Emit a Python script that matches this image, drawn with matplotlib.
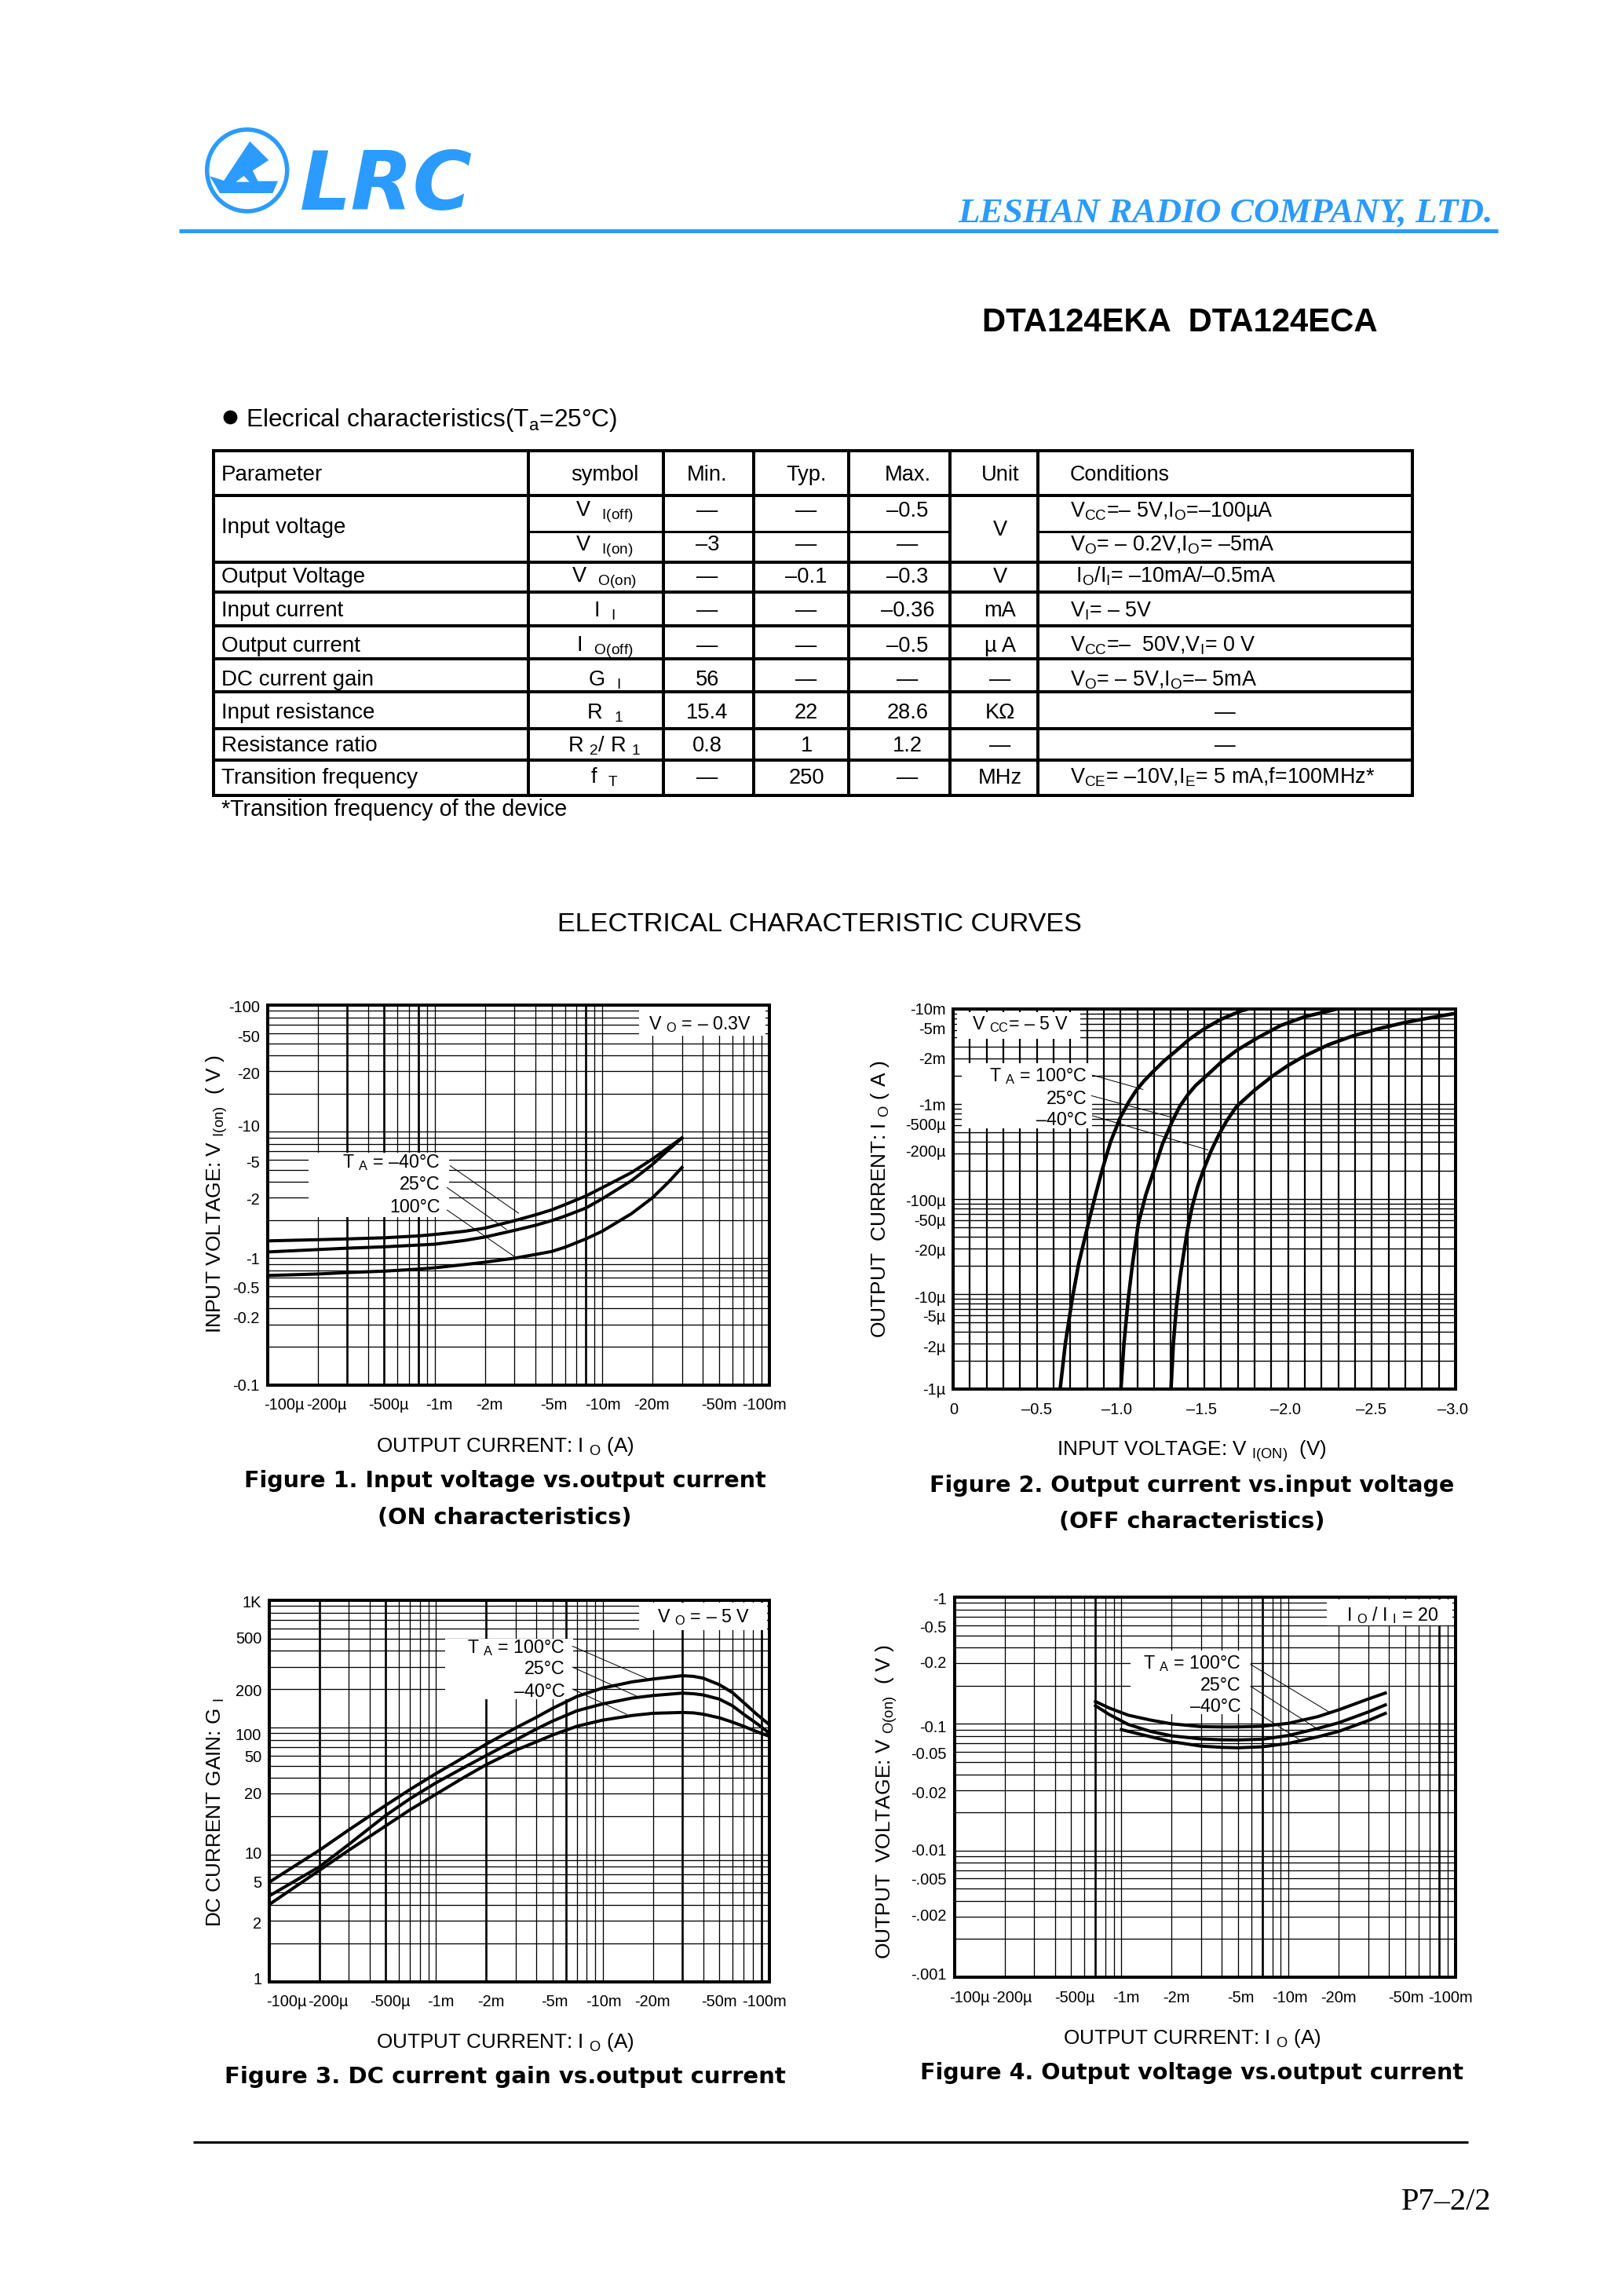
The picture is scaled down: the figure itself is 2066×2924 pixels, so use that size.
import numpy as np
import matplotlib
matplotlib.use('Agg')
import matplotlib.pyplot as plt
from matplotlib.patches import Rectangle, Ellipse, Polygon

plt.rcParams['font.family'] = ['Liberation Sans', 'DejaVu Sans']
plt.rcParams['mathtext.fontset'] = 'custom'
plt.rcParams['mathtext.rm'] = 'Liberation Sans'
plt.rcParams['mathtext.default'] = 'rm'

W, H = 2066, 2924
PX = 0.36  # one pixel in points at 200 dpi
BLUE = '#2b9bff'

# ---- data ----
# figure 1: current in mA, voltage magnitude in V
fig1_i = [0.1, 0.2, 0.3, 0.5, 0.8, 1, 1.5, 2, 3, 4, 5, 6, 8, 10, 15, 20, 25, 30]
fig1_m40 = [1.37, 1.40, 1.42, 1.45, 1.50, 1.54, 1.63, 1.73, 1.98, 2.20, 2.41, 2.65, 3.10, 3.60, 4.75, 6.07, 7.5, 8.9]
fig1_25 = [1.12, 1.17, 1.20, 1.23, 1.27, 1.29, 1.38, 1.47, 1.66, 1.82, 1.98, 2.15, 2.49, 2.94, 4.1, 5.5, 7.2, 8.9]
fig1_100 = [.73, .75, .77, .79, .82, .84, .89, .93, 1.0, 1.07, 1.13, 1.22, 1.42, 1.63, 2.25, 3.0, 4.0, 5.2]

# figure 2: input voltage magnitude in V, current in uA
fig2_v100 = [.639, .67, .71, .75, .806, .85, .89, .94, .998, 1.05, 1.093, 1.14, 1.189, 1.26, 1.333, 1.41, 1.5, 1.6, 1.715, 1.76]
fig2_i100 = [1, 3, 8.6, 21, 54, 110, 202, 400, 720, 1060, 1390, 1750, 2150, 2850, 3650, 4800, 6200, 7800, 9500, 10000]
fig2_v25 = [1.002, 1.02, 1.045, 1.07, 1.105, 1.15, 1.2, 1.25, 1.309, 1.354, 1.404, 1.45, 1.5, 1.6, 1.691, 1.82, 1.955, 2.1, 2.24, 2.29]
fig2_i25 = [1, 3, 8.6, 20, 54, 110, 202, 380, 660, 950, 1270, 1580, 1890, 2750, 3650, 5000, 6700, 8300, 9500, 10000]
fig2_vm40 = [1.301, 1.315, 1.333, 1.355, 1.38, 1.40, 1.428, 1.46, 1.495, 1.54, 1.584, 1.63, 1.691, 1.8, 1.907, 2.0, 2.098, 2.24, 2.385, 2.54, 2.696, 2.85, 3.0]
fig2_im40 = [1, 3, 7.2, 15, 29, 48, 84, 135, 202, 320, 465, 650, 936, 1400, 1970, 2550, 3200, 4200, 5200, 6200, 7200, 8100, 9000]

# figure 3: current in mA, gain
fig3_i = [.1, .2, .3, .5, .7, 1, 1.5, 2, 3, 4, 5, 7, 10, 15, 20, 30, 35, 40, 50, 60, 70, 85, 100]
fig3_100 = [6.05, 10.8, 15.6, 24.4, 32.5, 43.3, 59, 73.8, 98.8, 120, 141, 175, 204, 228, 240, 255, 252, 244, 217, 188, 157, 125, 105]
fig3_25 = [4.72, 8.0, 12.0, 20.3, 27.5, 36.6, 49, 60, 79.4, 97, 112, 135, 153, 170, 178, 186, 184, 180, 167, 148, 127, 106, 90]
fig3_m40 = [4.04, 7.5, 10.8, 16.8, 22.5, 29.8, 41, 50.8, 66, 77, 87, 102, 114, 124, 129, 131, 130, 127, 119, 110, 102, 92, 85]

# figure 4: current in mA, voltage magnitude in V
fig4_i = [.7, .85, 1.1, 1.5, 2, 3, 4, 5, 7, 10, 15, 20, 30, 38]
fig4_100 = [.150, .133, .117, .107, .100, .095, .0945, .0946, .0957, .101, .114, .129, .157, .175]
fig4_25 = [.139, .118, .0989, .087, .0804, .0760, .0748, .0746, .0756, .0809, .092, .102, .124, .141]
fig4_im40 = [1, 1.5, 2, 3, 4, 5, 7, 10, 15, 20, 30, 38]
fig4_m40 = [.090, .079, .0723, .0667, .0652, .0647, .0659, .0701, .079, .0872, .106, .121]

current_labels = ['-100µ', '-200µ', '-500µ', '-1m', '-2m', '-5m', '-10m', '-20m', '-50m', '-100m']
fig1_ylabels = ['-100', '-50', '-20', '-10', '-5', '-2', '-1', '-0.5', '-0.2', '-0.1']
fig2_xlabels = ['0', '–0.5', '–1.0', '–1.5', '–2.0', '–2.5', '–3.0']
fig2_ylabels = ['-10m', '-5m', '-2m', '-1m', '-500µ', '-200µ', '-100µ', '-50µ', '-20µ', '-10µ', '-5µ', '-2µ', '-1µ']
fig3_ylabels = ['1K', '500', '200', '100', '50', '20', '10', '5', '2', '1']
fig4_ylabels = ['-1', '-0.5', '-0.2', '-0.1', '-0.05', '-0.02', '-0.01', '-.005', '-.002', '-.001']

table_rows = [
    ['Parameter', 'symbol', 'Min.', 'Typ.', 'Max.', 'Unit', 'Conditions'],
    ['', 'V  $_{I(off)}$', '—', '—', '–0.5', '', 'V$_{CC}$=– 5V,I$_{O}$=–100µA'],
    ['', 'V  $_{I(on)}$', '–3', '—', '—', '', 'V$_{O}$= – 0.2V,I$_{O}$= –5mA'],
    ['Output Voltage', 'V  $_{O(on)}$', '—', '–0.1', '–0.3', 'V', ' I$_{O}$/I$_{I}$= –10mA/–0.5mA'],
    ['Input current', 'I  $_{I}$', '—', '—', '–0.36', 'mA', 'V$_{I}$= – 5V'],
    ['Output current', 'I  $_{O(off)}$', '—', '—', '–0.5', 'µ A', 'V$_{CC}$=–  50V,V$_{I}$= 0 V'],
    ['DC current gain', 'G  $_{I}$', '56', '—', '—', '—', 'V$_{O}$= – 5V,I$_{O}$=– 5mA'],
    ['Input resistance', 'R  $_{1}$', '15.4', '22', '28.6', 'KΩ', '—'],
    ['Resistance ratio', 'R $_{2}$/ R $_{1}$', '0.8', '1', '1.2', '—', '—'],
    ['Transition frequency', 'f  $_{T}$', '—', '250', '—', 'MHz', 'V$_{CE}$= –10V,I$_{E}$= 5 mA,f=100MHz*'],
]

fig = plt.figure(figsize=(W / 200, H / 200), dpi=200, facecolor='white')

# page layer in pixel coordinates, on top of the charts
page = fig.add_axes([0, 0, 1, 1], zorder=10)
page.set_xlim(0, W)
page.set_ylim(H, 0)
page.axis('off')
page.patch.set_alpha(0)


def ptext(x, y, s, size=10, ha='center', va='center', **kw):
    page.text(x, y, s, fontsize=size, ha=ha, va=va, color=kw.pop('color', 'black'), **kw)


def pline(x0, y0, x1, y1, lw=3, color='black'):
    page.plot([x0, x1], [y0, y1], color=color, lw=lw * PX, solid_capstyle='butt')


# header
logo_x = lambda x: 230 + x / 1.96
logo_y = lambda y: 130 + y / 3
page.add_patch(Ellipse((logo_x(166), logo_y(261)), 102, 104, fill=False, ec=BLUE, lw=5.5 * PX))
logo_shape = [(173, 150), (220, 222), (180, 262), (193, 302), (243, 302), (230, 348), (98, 348), (73, 283), (108, 300)]
page.add_patch(Polygon([(logo_x(a), logo_y(b)) for a, b in logo_shape], fc=BLUE, ec='none'))
logo_hole = [(138, 305), (158, 282), (172, 305)]
page.add_patch(Polygon([(logo_x(a), logo_y(b)) for a, b in logo_hole], fc='white', ec='none'))
ptext(382, 267, 'LRC', 37, ha='left', va='baseline', color=BLUE, family='DejaVu Sans', fontweight='bold',
      fontstyle='oblique')
pline(228, 294, 1908, 294, 5, BLUE)
ptext(1902, 272, 'LESHAN RADIO COMPANY, LTD.', 16.3, ha='right', color=BLUE, family='Liberation Serif',
      fontstyle='italic', fontweight='bold')
ptext(1503, 411, 'DTA124EKA  DTA124ECA', 15.1, fontweight='bold')

# table
page.plot([293], [531], 'o', color='black', ms=15 * PX)
ptext(313, 535, 'Elecrical characteristics(T$_{a}$=25°C)', 11.4, ha='left')
col_x = [272, 673, 845, 960, 1081, 1210, 1322, 1799]
row_y = [574, 631, 677, 716, 754, 797, 839, 881, 928, 968, 1013]
text_y = [612, 658, 701, 742, 785, 830, 873, 915, 957, 998]
text_x = [282, 770, 901, 1027, 1156, 1274, 1363]
for x in col_x:
    pline(x, row_y[0] - 2, x, row_y[-1] + 2, 4)
pline(col_x[0], row_y[0], col_x[-1], row_y[0], 4)
pline(col_x[0], row_y[1], col_x[-1], row_y[1], 4)
pline(col_x[1], row_y[2], col_x[5], row_y[2], 3)
pline(col_x[6], row_y[2], col_x[-1], row_y[2], 3)
for y in row_y[3:]:
    pline(col_x[0], y, col_x[-1], y, 4)
for r, row in enumerate(table_rows):
    for c, s in enumerate(row):
        if not s:
            continue
        if c == 0:
            ptext(text_x[0], text_y[r], s, 10, ha='left', va='baseline')
        elif c == 6 and s != '—':
            ptext(text_x[6], text_y[r], s, 9.7, ha='left', va='baseline')
        elif c == 6:
            ptext(1560, text_y[r], s, 9.6, va='baseline')
        else:
            ptext(text_x[c], text_y[r], s, 9.8, va='baseline')
ptext(282, 679, 'Input voltage', 10, ha='left', va='baseline')
ptext(text_x[5], 682, 'V', 9.8, va='baseline')
ptext(282, 1031, '*Transition frequency of the device', 10.3, ha='left')
ptext(1044, 1178, 'ELECTRICAL CHARACTERISTIC CURVES', 12.3)

# footer
pline(246, 2728, 1870, 2728, 3)
ptext(1900, 2804, 'P7–2/2', 14.6, ha='right', family='Liberation Serif')


def make_axes(left, top, right, bottom):
    ax = fig.add_axes([left / W, 1 - bottom / H, (right - left) / W, (bottom - top) / H])
    for s in ax.spines.values():
        s.set_linewidth(4 * PX)
    return ax


def log_lines(lo, hi):
    return [m * 10.0 ** e for e in range(lo, hi) for m in range(1, 10)]


def setup(ax, xlim, ylim, xgrid, ygrid, xpos, xlab, ypos, ylab, xbold=(), xlog=True, xlw=1.3, ylw=1.3):
    if xlog:
        ax.set_xscale('log')
        xs = np.log10(xlim)
        xvals = 10 ** (xs[0] + np.array(xpos) * (xs[1] - xs[0]))
    else:
        xvals = xlim[0] + np.array(xpos) * (xlim[1] - xlim[0])
    ax.set_yscale('log')
    ys = np.log10(ylim)
    yvals = 10 ** (ys[0] + np.array(ypos) * (ys[1] - ys[0]))
    ax.set_xticks(xvals, xlab)
    ax.set_yticks(yvals, ylab)
    ax.set_xticks(xgrid, minor=True)
    ax.set_yticks(ygrid, minor=True)
    ax.set_xticklabels([], minor=True)
    ax.set_yticklabels([], minor=True)
    ax.set_xlim(xlim)
    ax.set_ylim(ylim)
    ax.tick_params(which='both', length=0)
    ax.tick_params(axis='x', which='major', labelsize=7.2, pad=6)
    ax.tick_params(axis='y', which='major', labelsize=7.2, pad=3.5)
    ax.grid(False, which='major')
    ax.grid(True, which='minor', axis='x', color='black', lw=xlw * PX)
    ax.grid(True, which='minor', axis='y', color='black', lw=ylw * PX)
    for v in xbold:
        ax.axvline(v, color='black', lw=2.6 * PX, zorder=2)


def mask(ax, frame, box):
    # box is the white area in crop pixels, frame the plot frame in crop pixels
    x0, y0, x1, y1 = box
    fx0, fy0, fx1, fy1 = frame
    ax.add_patch(Rectangle(((x0 - fx0) / (fx1 - fx0), 1 - (y1 - fy0) / (fy1 - fy0)),
                           (x1 - x0) / (fx1 - fx0), (y1 - y0) / (fy1 - fy0),
                           transform=ax.transAxes, fc='white', ec='none', zorder=2.4))


def note(zx, zy, top_s, temps, right, ys, leaders, top_xy):
    ptext(zx(top_xy[0]), zy(top_xy[1]), top_s, 8.4)
    for s, y in zip(temps, ys):
        ptext(zx(right), zy(y), s, 8.4, ha='right')
    for a, b, c, d in leaders:
        pline(zx(a), zy(b), zx(c), zy(d), 1)


current_pos = [.034, .118, .242, .343, .443, .571, .669, .766, .900, .990]
CAP = dict(family='DejaVu Sans', fontweight='bold')

# ---- figure 1 ----
ax1 = make_axes(340.5, 1280, 980, 1763.5)
setup(ax1, (0.1, 100), (0.1, 100), log_lines(-1, 2), log_lines(-1, 2), current_pos, current_labels,
      [.997, .919, .821, .682, .588, .490, .334, .256, .177, 0], fig1_ylabels,
      xbold=[0.3, 0.5, 0.8, 8])
frame1 = (197, 65, 1450, 1113)
mask(ax1, frame1, (1125, 70, 1441, 150))
mask(ax1, frame1, (300, 472, 650, 650))
for ys in (fig1_m40, fig1_25, fig1_100):
    ax1.plot(fig1_i, ys, color='black', lw=4 * PX, zorder=3)
z1x = lambda x: 240 + x / 1.96
z1y = lambda y: 1250 + y / 2.167
note(z1x, z1y, 'V $_{O}$ = – 0.3V', ['T $_{A}$ = –40°C', '25°C', '100°C'], 628, [500, 560, 622],
     [(653, 508, 825, 640), (645, 568, 795, 685), (645, 630, 815, 760)], (1278, 118))
ptext(276, 1521, 'INPUT VOLTAGE: V $_{I(on)}$  ( V )', 9.5, rotation=90)
ptext(643, 1842, 'OUTPUT CURRENT: I $_{O}$ (A)', 9.4)
ptext(643, 1886, 'Figure 1. Input voltage vs.output current', 10.3, **CAP)
ptext(643, 1933, '(ON characteristics)', 10.3, **CAP)

# ---- figure 2 ----
ax2 = make_axes(1214, 1285, 1854, 1769)
setup(ax2, (0, 3), (1, 10000), [i / 10 for i in range(31)], log_lines(0, 4),
      [.002, .167, .326, .494, .662, .832, .994], fig2_xlabels,
      [1.0, .950, .870, .748, .697, .627, .497, .446, .367, .243, .193, .112, 0], fig2_ylabels,
      xlog=False, xlw=2.2, ylw=1.4)
frame2 = (243, 75, 1497, 1125)
mask(ax2, frame2, (252, 84, 560, 157))
mask(ax2, frame2, (265, 225, 590, 405))
for xs, ys in ((fig2_v100, fig2_i100), (fig2_v25, fig2_i25), (fig2_vm40, fig2_im40)):
    ax2.plot(xs, ys, color='black', lw=4.5 * PX, zorder=3)
z2x = lambda x: 1090 + x / 1.96
note(z2x, z1y, 'V $_{CC}$= – 5 V', ['T $_{A}$ = 100°C', '25°C', '–40°C'], 578, [262, 323, 382],
     [(590, 258, 718, 298), (588, 315, 790, 375), (590, 370, 880, 465)], (410, 118))
ptext(1121, 1527, 'OUTPUT  CURRENT: I $_{O}$ ( A )', 9.5, rotation=90)
ptext(1518, 1848, 'INPUT VOLTAGE: V $_{I(ON)}$  (V)', 9.4)
ptext(1518, 1892, 'Figure 2. Output current vs.input voltage', 10.3, **CAP)
ptext(1518, 1938, '(OFF characteristics)', 10.3, **CAP)

# ---- figure 3 ----
ax3 = make_axes(343, 2038, 980, 2523.5)
setup(ax3, (0.1, 100), (1, 1000), log_lines(-1, 2), log_lines(0, 3), current_pos, current_labels,
      [.997, .902, .764, .649, .592, .495, .337, .261, .155, .009], fig3_ylabels,
      xbold=[0.2, 0.5, 2, 6, 30, 90])
frame3 = (202, 42, 1450, 1155)
mask(ax3, frame3, (1125, 48, 1445, 130))
mask(ax3, frame3, (640, 155, 960, 330))
for ys in (fig3_100, fig3_25, fig3_m40):
    ax3.plot(fig3_i, ys, color='black', lw=4 * PX, zorder=3)
z3y = lambda y: 2020 + y / 2.294
note(z1x, z3y, 'V $_{O}$ = – 5 V', ['T $_{A}$ = 100°C', '25°C', '–40°C'], 940, [180, 243, 308],
     [(958, 175, 1145, 270), (958, 236, 1120, 322), (958, 300, 1095, 375)], (1285, 90))
ptext(275, 2308, 'DC CURRENT GAIN: G $_{I}$', 9.4, rotation=90)
ptext(643, 2601, 'OUTPUT CURRENT: I $_{O}$ (A)', 9.4)
ptext(643, 2645, 'Figure 3. DC current gain vs.output current', 10.5, **CAP)

# ---- figure 4 ----
ax4 = make_axes(1215.5, 2034, 1854, 2518)
setup(ax4, (0.1, 100), (0.001, 1), log_lines(-1, 2), log_lines(-3, 0),
      [.031, .115, .241, .343, .443, .571, .669, .766, .901, .990], current_labels,
      [.996, .922, .830, .660, .590, .487, .336, .259, .165, .009], fig4_ylabels,
      xbold=[0.7, 7, 80])
frame4 = (246, 33, 1497, 1143)
mask(ax4, frame4, (1175, 40, 1490, 115))
mask(ax4, frame4, (685, 190, 985, 375))
ax4.plot(fig4_i, fig4_100, color='black', lw=4 * PX, zorder=3)
ax4.plot(fig4_i, fig4_25, color='black', lw=4 * PX, zorder=3)
ax4.plot(fig4_im40, fig4_m40, color='black', lw=4 * PX, zorder=3)
note(z2x, z3y, 'I $_{O}$ / I $_{I}$ = 20', ['T $_{A}$ = 100°C', '25°C', '–40°C'], 962, [225, 290, 352],
     [(985, 228, 1185, 370), (985, 292, 1150, 415), (985, 357, 1110, 450)], (1340, 85))
ptext(1129, 2295, 'OUTPUT  VOLTAGE: V $_{O(on)}$  ( V )', 9.5, rotation=90)
ptext(1518, 2596, 'OUTPUT CURRENT: I $_{O}$ (A)', 9.4)
ptext(1518, 2640, 'Figure 4. Output voltage vs.output current', 10.3, **CAP)

fig.savefig('out.png', dpi=200)
